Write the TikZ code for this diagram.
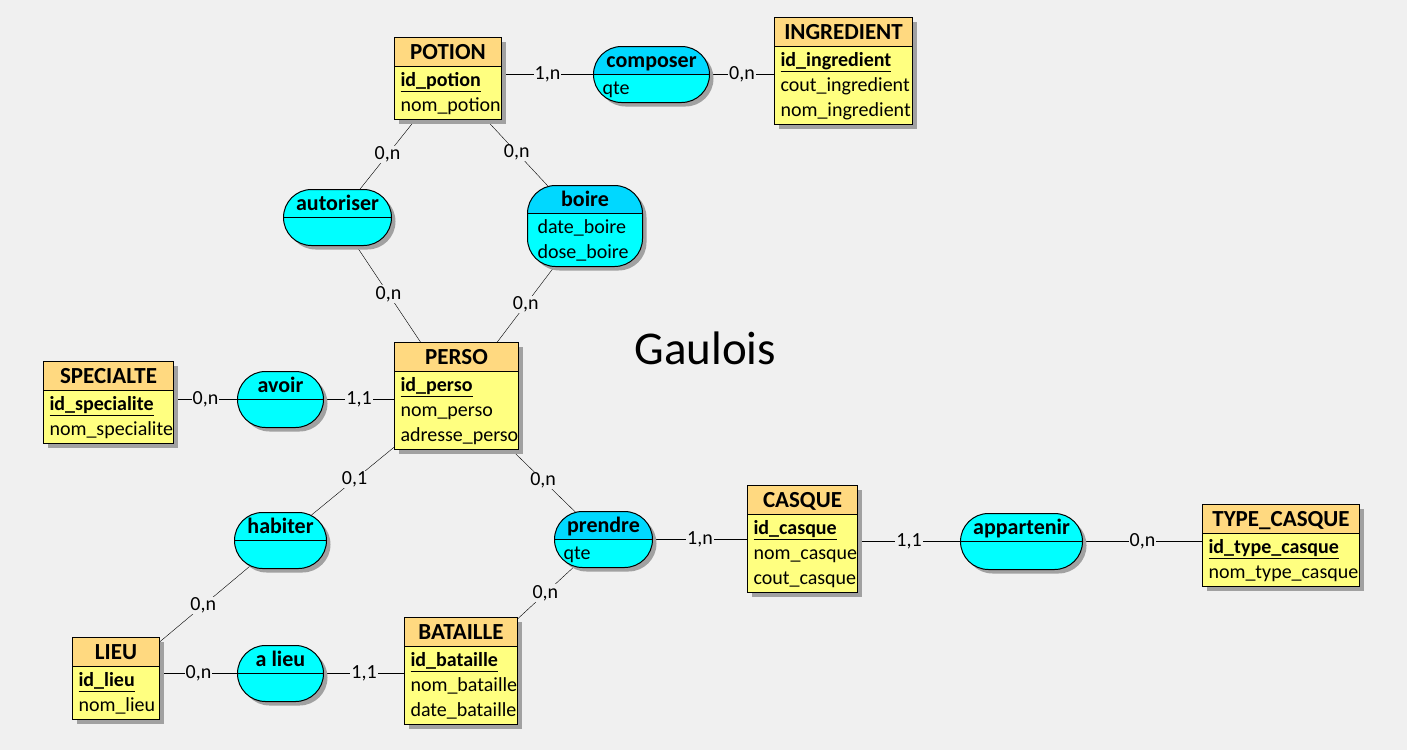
\documentclass[tikz,border=0pt]{standalone}
\usepackage{fontspec}
\setmainfont{Carlito}
\usetikzlibrary{shadows,backgrounds}

\definecolor{fond}{HTML}{F0F0F0}
\definecolor{entHead}{HTML}{FFD980}
\definecolor{entBody}{HTML}{FFFF80}
\definecolor{assHead}{HTML}{00D8FF}
\definecolor{assBody}{HTML}{00FFFF}

% contenu des boites (1pt = 1px)
\newcommand\bloc[2]{\vbox{\hsize=#1pt\offinterlineskip#2\vskip3pt}}
\newcommand\titre[1]{\hbox to\hsize{\hss\rule[-7pt]{0pt}{29pt}\fontsize{23}{23}\selectfont\bfseries#1\hss}}
\newcommand\titreA[1]{\hbox to\hsize{\hss\rule[-7pt]{0pt}{28pt}\fontsize{22}{22}\selectfont\bfseries#1\hss}}
\newcommand\cle[1]{\hbox{\hspace{6pt}\rule[-5pt]{0pt}{25pt}\underline{\bfseries#1}}}
\newcommand\attr[2][6]{\hbox{\hspace{#1pt}\rule[-5pt]{0pt}{25pt}#2}}
\newcommand\vide{\hbox{\rule{0pt}{25pt}}}

\begin{document}
\begin{tikzpicture}[x=1pt,y=-1pt,line width=1pt,
  font=\fontsize{20}{20}\selectfont,
  ombre/.style={drop shadow={shadow xshift=4pt,shadow yshift=-4pt,fill=black!37,opacity=1}},
  entete/.style 2 args={path picture={
    \fill[#1,sharp corners] (path picture bounding box.north west) rectangle ([yshift=-#2pt]path picture bounding box.north east);
    \draw[sharp corners] ([yshift=-#2pt]path picture bounding box.north west) -- ++(300,0);}},
  entite/.style={draw,fill=entBody,inner sep=0pt,anchor=north west,ombre,entete={entHead}{29}},
  asso/.style={draw,fill=assBody,inner sep=0pt,anchor=north west,rounded corners=28pt,ombre,entete={#1}{28}},
  asso/.default=assBody,
  lien/.style={draw,shorten <=-8pt,shorten >=-8pt},
  card/.style={fill=fond,inner sep=1pt}]
\useasboundingbox (0,0) rectangle (1407,750);
\begin{scope}[on background layer]
\fill[fond] (0,0) rectangle (1407,750);
\end{scope}

% entites
\node[entite] (potion) at (394,37) {\bloc{107}{\titre{POTION}\cle{id\_potion}\attr{nom\_potion}}};
\node[entite] (ingredient) at (774,17) {\bloc{138}{\titre{INGREDIENT}\cle{id\_ingredient}\attr{cout\_ingredient}\attr{nom\_ingredient}}};
\node[entite] (specialte) at (43,361) {\bloc{130}{\titre{SPECIALTE}\cle{id\_specialite}\attr{nom\_specialite}}};
\node[entite] (perso) at (394,342) {\bloc{124}{\titre{PERSO}\cle{id\_perso}\attr{nom\_perso}\attr{adresse\_perso}}};
\node[entite] (casque) at (747,485) {\bloc{110}{\titre{CASQUE}\cle{id\_casque}\attr{nom\_casque}\attr{cout\_casque}}};
\node[entite] (typecasque) at (1202,504) {\bloc{157}{\titre{TYPE\_CASQUE}\cle{id\_type\_casque}\attr{nom\_type\_casque}}};
\node[entite] (lieu) at (72,637) {\bloc{87}{\titre{LIEU}\cle{id\_lieu}\attr{nom\_lieu}}};
\node[entite] (bataille) at (404,617) {\bloc{113}{\titre{BATAILLE}\cle{id\_bataille}\attr{nom\_bataille}\attr{date\_bataille}}};

% associations
\node[asso=assHead] (composer) at (593,46) {\bloc{116}{\titreA{composer}\attr[9]{qte}}};
\node[asso] (autoriser) at (283,189) {\bloc{108}{\titreA{autoriser}\vide}};
\node[asso=assHead] (boire) at (527,185) {\bloc{115}{\titreA{boire}\attr[10]{date\_boire}\attr[10]{dose\_boire}}};
\node[asso] (avoir) at (237,371) {\bloc{86}{\titreA{avoir}\vide}};
\node[asso] (habiter) at (234,512) {\bloc{92}{\titreA{habiter}\vide}};
\node[asso=assHead] (prendre) at (554,511) {\bloc{98}{\titreA{prendre}\attr[9]{qte}}};
\node[asso] (appartenir) at (960,513) {\bloc{122}{\titreA{appartenir}\vide}};
\node[asso] (alieu) at (237,645) {\bloc{86}{\titreA{a lieu}\vide}};

\node[anchor=base west,inner sep=0pt,font=\fontsize{47}{47}\selectfont] (gaulois) at (634,364) {Gaulois};

% liens
\begin{scope}[on background layer]
\foreach \a/\b/\c in {potion/autoriser/{0,n},potion/boire/{0,n},autoriser/perso/{0,n},boire/perso/{0,n},
  perso/habiter/{0,1},habiter/lieu/{0,n},perso/prendre/{0,n},prendre/bataille/{0,n}}
  \path[lien] (\a) -- node[card]{\c} (\b);
\foreach \a/\b/\c in {potion.east/composer/{1,n},ingredient.west/composer/{0,n},specialte.east/avoir/{0,n},
  perso.west/avoir/{1,1},casque.west/prendre/{1,n},casque.east/appartenir/{1,1},
  typecasque.west/appartenir/{0,n},lieu.east/alieu/{0,n},bataille.west/alieu/{1,1}}
  \path[lien] (\b -| \a) -- node[card]{\c} (\b);
\end{scope}
\end{tikzpicture}
\end{document}
